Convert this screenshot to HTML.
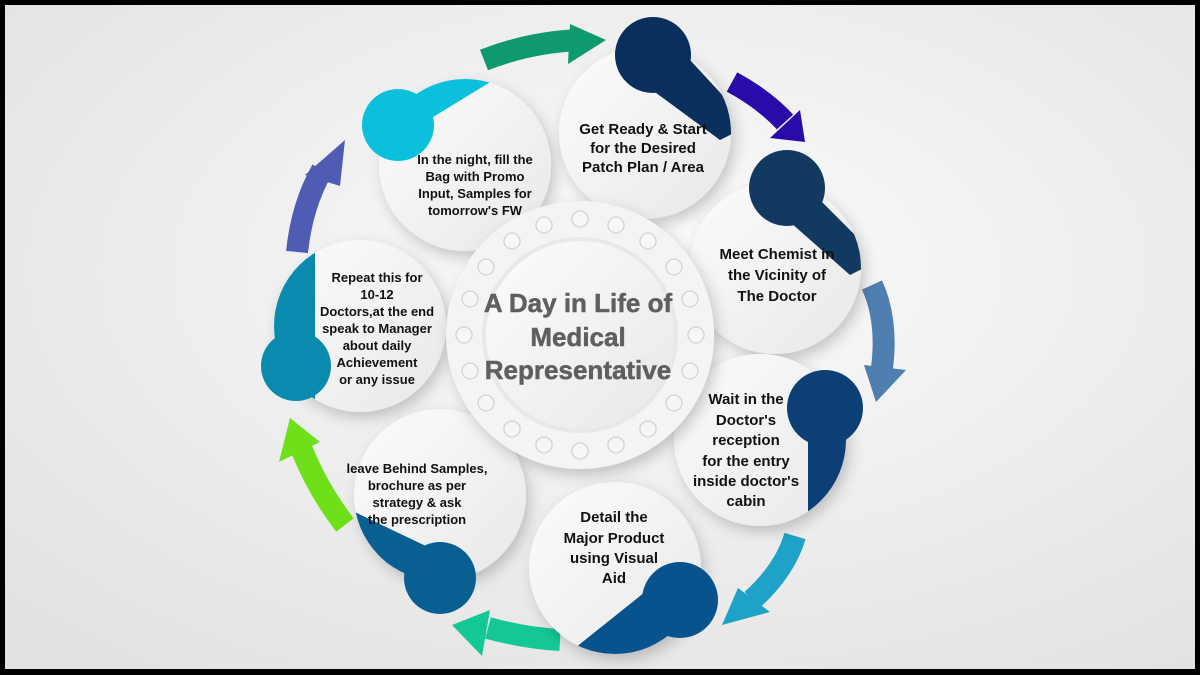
<!DOCTYPE html>
<html><head><style>
html,body{margin:0;padding:0;}
body{width:1200px;height:675px;overflow:hidden;background:#000;}
svg{display:block;}
text{font-family:"Liberation Sans",Arial,sans-serif;font-weight:bold;fill:#111;text-anchor:middle;}
</style></head><body>
<svg width="1200" height="675" viewBox="0 0 1200 675">
<defs>
<radialGradient id="bg" cx="0.55" cy="0.4" r="0.75">
<stop offset="0" stop-color="#fbfbfb"/><stop offset="1" stop-color="#e2e2e2"/>
</radialGradient>
<linearGradient id="wc" x1="0" y1="0" x2="1" y2="1">
<stop offset="0" stop-color="#fcfcfc"/><stop offset="1" stop-color="#e8e8e8"/>
</linearGradient>
<filter id="sh" x="-30%" y="-30%" width="160%" height="160%">
<feDropShadow dx="4" dy="6" stdDeviation="7" flood-color="#000" flood-opacity="0.2"/>
</filter>
<clipPath id="c1"><circle cx="645" cy="133" r="86"/></clipPath>
<clipPath id="c2"><circle cx="775" cy="268" r="86"/></clipPath>
<clipPath id="c3"><circle cx="760" cy="440" r="86"/></clipPath>
<clipPath id="c4"><circle cx="615" cy="568" r="86"/></clipPath>
<clipPath id="c5"><circle cx="440" cy="495" r="86"/></clipPath>
<clipPath id="c6"><circle cx="360" cy="326" r="86"/></clipPath>
<clipPath id="c7"><circle cx="465" cy="165" r="86"/></clipPath>
</defs>
<rect x="5" y="5" width="1190" height="664" fill="url(#bg)"/>

<g fill="none" stroke-width="22">
<path d="M484,60 Q530,42 580,40" stroke="#0e9a6e"/>
<path d="M732,82 Q765,100 785,122" stroke="#2a0aa8"/>
<path d="M872,285 Q888,320 882,368" stroke="#4f7fb0"/>
<path d="M795,536 Q785,570 752,600" stroke="#1ea2c8"/>
<path d="M560,640 Q525,638 488,628" stroke="#14c896"/>
<path d="M345,525 Q318,490 302,450" stroke="#6ee01a"/>
<path d="M297,252 Q302,205 322,170" stroke="#4e5cb4"/>
</g>
<polygon points="570,24 606,40 568,64" fill="#0e9a6e"/>
<polygon points="770,138 800,110 805,142" fill="#2a0aa8"/>
<polygon points="864,365 906,370 876,402" fill="#4f7fb0"/>
<polygon points="738,588 770,612 722,625" fill="#1ea2c8"/>
<polygon points="490,610 482,656 452,625" fill="#14c896"/>
<polygon points="279,462 320,442 290,418" fill="#6ee01a"/>
<polygon points="305,175 340,186 345,140" fill="#4e5cb4"/>

<g filter="url(#sh)" fill="url(#wc)">
<circle cx="645" cy="133" r="86"/>
<circle cx="775" cy="268" r="86"/>
<circle cx="760" cy="440" r="86"/>
<circle cx="615" cy="568" r="86"/>
<circle cx="440" cy="495" r="86"/>
<circle cx="360" cy="326" r="86"/>
<circle cx="465" cy="165" r="86"/>
</g>

<g clip-path="url(#c1)"><polygon points="625,70 690,60 750,125 720,140" fill="#0a2f5c"/></g>
<circle cx="653" cy="55" r="38" fill="#0a2f5c"/>
<g clip-path="url(#c2)"><polygon points="765,200 815,195 880,260 850,275" fill="#123a60"/></g>
<circle cx="787" cy="188" r="38" fill="#123a60"/>
<g clip-path="url(#c3)"><rect x="808" y="400" width="60" height="130" fill="#0c3f76"/></g>
<circle cx="825" cy="408" r="38" fill="#0c3f76"/>
<g clip-path="url(#c4)"><polygon points="660,580 700,620 600,680 560,660" fill="#08528e"/></g>
<circle cx="680" cy="600" r="38" fill="#08528e"/>
<g clip-path="url(#c5)"><polygon points="340,505 430,548 420,600 340,600" fill="#0a5f92"/></g>
<circle cx="440" cy="578" r="36" fill="#0a5f92"/>
<g clip-path="url(#c6)"><rect x="260" y="230" width="55" height="180" fill="#0a8aae"/></g>
<circle cx="296" cy="366" r="35" fill="#0a8aae"/>
<g clip-path="url(#c7)"><polygon points="400,70 510,70 420,125 380,130" fill="#0ac0dc"/></g>
<circle cx="398" cy="125" r="36" fill="#0ac0dc"/>

<circle cx="580" cy="335" r="134" fill="#f4f4f4" filter="url(#sh)"/>
<circle cx="580" cy="335" r="98" fill="#e8e8e8"/>
<circle cx="580" cy="335" r="94" fill="url(#wc)"/>
<g fill="#f6f6f6" stroke="#d6d6d6" stroke-width="1.5">
<circle cx="580" cy="219" r="8"/><circle cx="616" cy="225" r="8"/><circle cx="648" cy="241" r="8"/><circle cx="674" cy="267" r="8"/><circle cx="690" cy="299" r="8"/><circle cx="696" cy="335" r="8"/><circle cx="690" cy="371" r="8"/><circle cx="674" cy="403" r="8"/><circle cx="648" cy="429" r="8"/><circle cx="616" cy="445" r="8"/><circle cx="580" cy="451" r="8"/><circle cx="544" cy="445" r="8"/><circle cx="512" cy="429" r="8"/><circle cx="486" cy="403" r="8"/><circle cx="470" cy="371" r="8"/><circle cx="464" cy="335" r="8"/><circle cx="470" cy="299" r="8"/><circle cx="486" cy="267" r="8"/><circle cx="512" cy="241" r="8"/><circle cx="544" cy="225" r="8"/>
</g>
<g style="font-size:26px;">
<text x="578" y="312" style="fill:#5f5f5f" stroke="#5f5f5f" stroke-width="0.5">A Day in Life of</text>
<text x="578" y="346" style="fill:#5f5f5f" stroke="#5f5f5f" stroke-width="0.5">Medical</text>
<text x="578" y="379" style="fill:#5f5f5f" stroke="#5f5f5f" stroke-width="0.5">Representative</text>
</g>

<g style="font-size:15px">
<text x="643" y="134">Get Ready &amp; Start</text>
<text x="643" y="153">for the Desired</text>
<text x="643" y="172">Patch Plan / Area</text>
<text x="777" y="259">Meet Chemist in</text>
<text x="777" y="280">the Vicinity of</text>
<text x="777" y="301">The Doctor</text>
<text x="746" y="404">Wait in the</text>
<text x="746" y="425">Doctor's</text>
<text x="746" y="445">reception</text>
<text x="746" y="466">for the entry</text>
<text x="746" y="486">inside doctor's</text>
<text x="746" y="506">cabin</text>
<text x="614" y="522">Detail the</text>
<text x="614" y="543">Major Product</text>
<text x="614" y="563">using Visual</text>
<text x="614" y="583">Aid</text>
</g>
<g style="font-size:13px">
<text x="475" y="164">In the night, fill the</text>
<text x="475" y="181">Bag with Promo</text>
<text x="475" y="198">Input, Samples for</text>
<text x="475" y="215">tomorrow's FW</text>
<text x="377" y="282">Repeat this for</text>
<text x="377" y="299">10-12</text>
<text x="377" y="316">Doctors,at the end</text>
<text x="377" y="333">speak to Manager</text>
<text x="377" y="350">about daily</text>
<text x="377" y="367">Achievement</text>
<text x="377" y="384">or any issue</text>
<text x="417" y="473">leave Behind Samples,</text>
<text x="417" y="490">brochure as per</text>
<text x="417" y="507">strategy &amp; ask</text>
<text x="417" y="524">the prescription</text>
</g>
</svg>
</body></html>
